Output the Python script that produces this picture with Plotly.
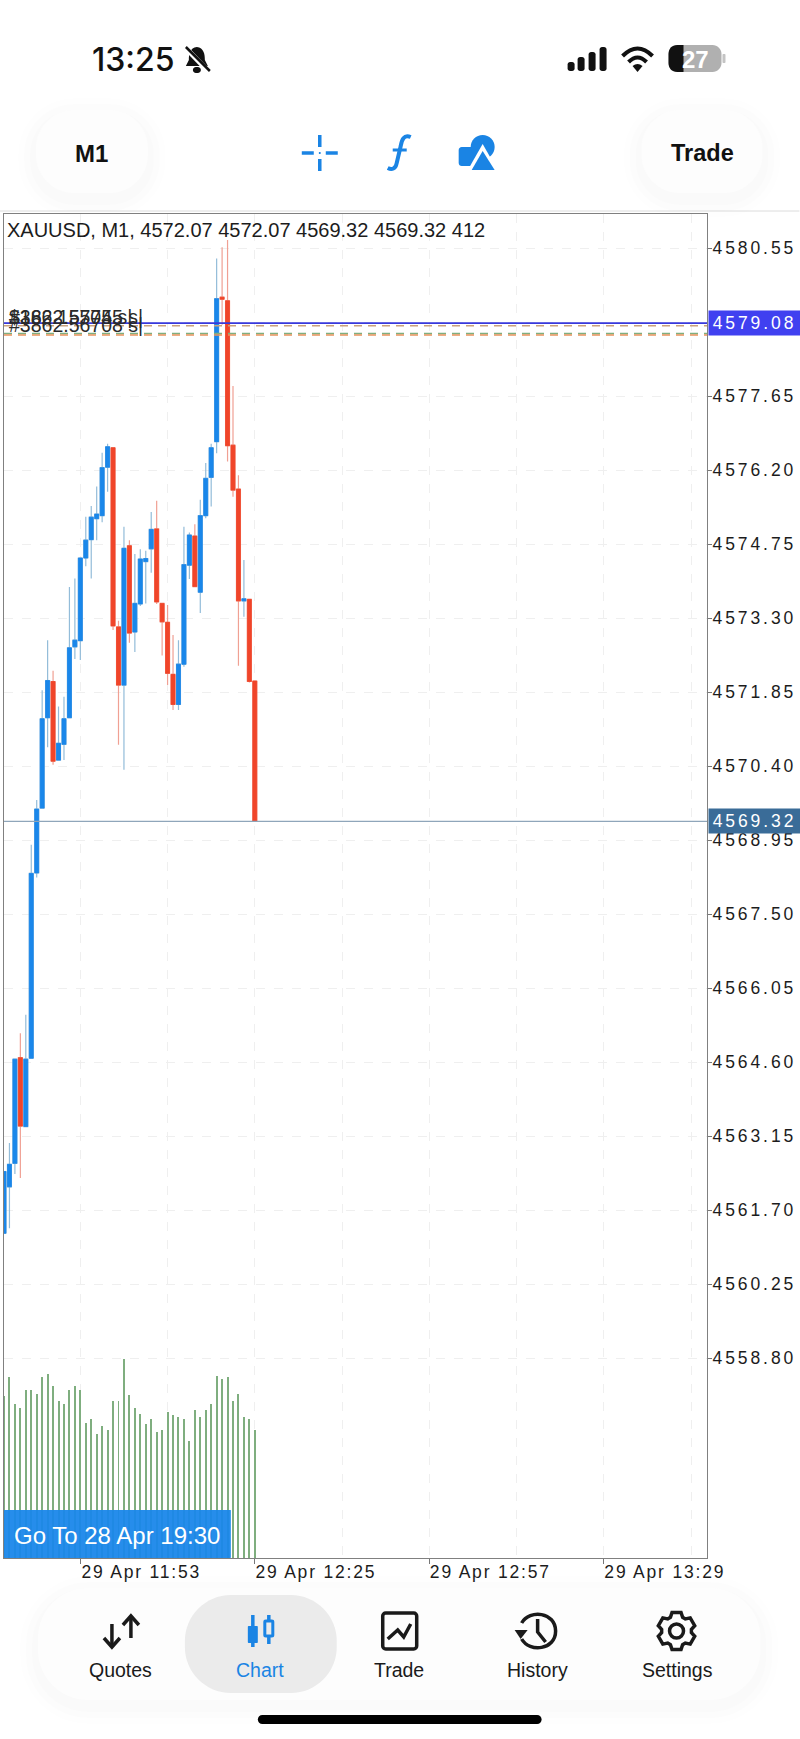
import re

import numpy as np
import pandas as pd
import plotly.graph_objects as go

# candles, one per minute from 11:39 to 12:25
first_minute = "2026-04-29 11:39"
opens = [4561.25, 4562.16, 4562.62, 4564.69, 4563.34, 4564.68, 4568.31, 4569.58, 4571.35, 4572.06,
         4570.52, 4570.83, 4571.35, 4572.74, 4572.86, 4574.48, 4574.84, 4575.25, 4575.31, 4576.26,
         4576.64, 4573.13, 4571.99, 4574.72, 4573.03, 4573.58, 4574.41, 4574.66, 4575.05, 4573.59,
         4573.22, 4572.20, 4571.61, 4572.40, 4574.34, 4574.91, 4573.81, 4575.31, 4576.06, 4576.76,
         4579.59, 4579.52, 4576.69, 4575.83, 4573.64, 4573.67, 4572.07]
highs = [4562.46, 4563.02, 4564.66, 4565.17, 4565.53, 4568.86, 4569.74, 4571.89, 4572.87, 4572.27,
         4571.57, 4571.76, 4573.91, 4574.08, 4574.48, 4575.29, 4575.50, 4575.88, 4576.54, 4576.72,
         4576.64, 4573.25, 4575.09, 4574.83, 4574.56, 4574.65, 4574.62, 4575.38, 4575.60, 4573.59,
         4573.56, 4572.97, 4572.87, 4575.09, 4574.98, 4575.14, 4575.62, 4576.34, 4576.72, 4580.35,
         4580.57, 4580.71, 4577.85, 4576.10, 4574.44, 4573.67, 4572.07]
lows = [4561.25, 4561.35, 4562.41, 4562.33, 4563.34, 4564.68, 4568.22, 4569.58, 4570.77, 4570.43,
        4570.51, 4570.52, 4571.35, 4572.50, 4572.48, 4574.32, 4574.08, 4574.83, 4575.18, 4575.78,
        4573.07, 4570.82, 4570.33, 4572.82, 4572.64, 4573.54, 4573.59, 4574.19, 4573.58, 4572.57,
        4571.99, 4571.50, 4571.50, 4572.35, 4574.07, 4573.92, 4573.40, 4575.26, 4575.49, 4576.53,
        4579.05, 4576.37, 4575.68, 4572.37, 4573.33, 4572.04, 4569.32]
closes = [4562.46, 4562.60, 4564.66, 4563.35, 4564.66, 4568.30, 4569.56, 4571.33, 4572.08, 4570.50,
          4570.85, 4571.33, 4572.72, 4572.87, 4574.48, 4574.83, 4575.28, 4575.34, 4576.25, 4576.66,
          4573.15, 4571.99, 4574.67, 4573.01, 4573.59, 4574.46, 4574.47, 4575.04, 4573.62, 4573.23,
          4572.22, 4571.61, 4572.40, 4574.35, 4574.93, 4573.92, 4575.31, 4576.04, 4576.64, 4579.56,
          4579.55, 4576.68, 4575.81, 4573.64, 4573.68, 4572.06, 4569.32]
volumes = [520, 581, 494, 482, 540, 540, 528, 581, 592, 551, 505, 493, 540, 551, 540, 435, 446, 399, 423,
           411, 505, 505, 640, 522, 482, 463, 429, 446, 406, 412, 470, 458, 453, 446, 376, 476, 453, 476,
           493, 586, 575, 581, 505, 528, 453, 446, 412]

price_ticks = [4580.55, 4577.65, 4576.20, 4574.75, 4573.30, 4571.85, 4570.40,
               4568.95, 4567.50, 4566.05, 4564.60, 4563.15, 4561.70, 4560.25, 4558.80]
price_grid = [4579.10]
time_ticks = ["2026-04-29 11:53", "2026-04-29 12:25", "2026-04-29 12:57", "2026-04-29 13:29"]
time_grid = ["2026-04-29 12:09", "2026-04-29 12:41", "2026-04-29 13:13", "2026-04-29 13:45"]
time_range = ["2026-04-29 11:39:00", "2026-04-29 13:47:56"]
price_range = [4554.887, 4581.22]
volume_top = 4316

bid_price = 4569.32
ask_price = 4579.08
stop_prices = [4579.03, 4578.88, 4578.85]
order_labels = ["#3862.55745 s|", "$162.15705 s|", "#3862.56708 s|"]
order_label_prices = [4579.20, 4579.20, 4579.04]
header = "XAUUSD, M1, 4572.07 4572.07 4569.32 4569.32 412"

BLUE = "#1a87ea"
RED = "#f0452a"
ICON_BLUE = "#1a84e4"
INK = "#1a1a1a"

# plot box in page pixels
LEFT, RIGHT, TOP, BOTTOM = 4, 707.5, 214, 1558
PAGE_W, PAGE_H = 800, 1739


def px(x):
    return (x - LEFT) / (RIGHT - LEFT)


def py(y):
    return 1 - (y - TOP) / (BOTTOM - TOP)


def svg(d):
    """Turn an svg path written in page pixels into paper coordinates."""
    parts = re.findall(r"[MLCQZ]|-?\d+\.?\d*", d)
    out, is_x = [], True
    for part in parts:
        if part.isalpha():
            out.append(part)
        else:
            out.append(f"{px(float(part)) if is_x else py(float(part)):.5f}")
            is_x = not is_x
    return " ".join(out)


def round_rect(x0, y0, x1, y1, r):
    k = r * 0.45
    return (f"M {x0 + r} {y0} L {x1 - r} {y0} C {x1 - k} {y0} {x1} {y0 + k} {x1} {y0 + r} "
            f"L {x1} {y1 - r} C {x1} {y1 - k} {x1 - k} {y1} {x1 - r} {y1} "
            f"L {x0 + r} {y1} C {x0 + k} {y1} {x0} {y1 - k} {x0} {y1 - r} "
            f"L {x0} {y0 + r} C {x0} {y0 + k} {x0 + k} {y0} {x0 + r} {y0} Z")


shapes = []
notes = []
spaced_notes = []


def fill(d, color, layer="above", opacity=1):
    shapes.append(dict(type="path", xref="paper", yref="paper", path=svg(d), fillcolor=color,
                       line=dict(width=0), layer=layer, opacity=opacity))


def stroke(d, color, width=3):
    shapes.append(dict(type="path", xref="paper", yref="paper", path=svg(d), line=dict(color=color, width=width),
                       layer="above"))


def label(x, y, text, size, color=INK, anchor="center", family="Liberation Sans", weight=400):
    notes.append(dict(xref="paper", yref="paper", x=px(x), y=py(y), text=text, showarrow=False, xanchor=anchor,
                      yanchor="middle", font=dict(size=size, color=color, family=family, weight=weight)))


def pill(x0, y0, x1, y1, r, color="#fdfdfd"):
    for grow, alpha in [(18, 0.005), (12, 0.006), (6, 0.008)]:
        fill(round_rect(x0 - grow, y0 - grow + 6, x1 + grow, y1 + grow + 6, r + grow), "#000000", "below", alpha)
    fill(round_rect(x0, y0, x1, y1, r), color, "below")


# status bar
label(134, 59, "13:25", 32, "#111111", family="Inter", weight=500)
fill("M 197 47 C 190 48 189 54 189 60 L 186 66 L 208 66 L 205 60 C 205 54 204 48 197 47 Z", "#111111")
fill(round_rect(193, 67, 201, 73, 3), "#111111")
stroke("M 184 46 L 210 73", "#ffffff", 5)
stroke("M 186 47 L 210 71", "#111111", 2.5)
for x0, y0 in [(568, 62), (578, 57), (589, 52), (600, 47)]:
    fill(round_rect(x0, y0, x0 + 7, 71, 2.5), "#111111")
stroke("M 623 56 Q 638 41 653 56", "#111111", 4)
stroke("M 629 62 Q 638 53 647 62", "#111111", 4)
fill("M 633 66 Q 638 62 643 66 L 638 72 Z", "#111111")
fill(round_rect(669, 45, 722, 72, 9), "#b0b0b0")
fill("M 678 45 L 684 45 L 684 72 L 678 72 C 672 72 669 68 669 63 L 669 54 C 669 49 672 45 678 45 Z", "#111111")
fill(round_rect(723, 54, 726, 63, 1), "#c4c4c4")
label(696, 59, "27", 24, "#ffffff", weight=700)

# top toolbar
shapes.append(dict(type="line", xref="paper", yref="paper", x0=px(0), x1=px(PAGE_W), y0=py(211), y1=py(211),
                   line=dict(color="#dcdcdc", width=1), layer="below"))
pill(36, 110, 148, 193, 38)
pill(642, 110, 763, 193, 38)
label(92, 153, "M1", 24, "#111111", weight=700)
label(703, 153, "Trade", 23.5, "#111111", weight=700)
for seg in ["M 302 153 L 314 153", "M 326 153 L 338 153", "M 320 135 L 320 147", "M 320 159 L 320 171"]:
    stroke(seg, ICON_BLUE, 3.5)
fill(round_rect(319, 152, 321, 154, 1), ICON_BLUE)
stroke("M 411 137 C 404 134 402 140 401 146 L 397 163 C 396 169 392 170 388 168", ICON_BLUE, 4)
stroke("M 393 150 L 407 150", ICON_BLUE, 3)
fill(round_rect(459, 147, 478, 166, 3), ICON_BLUE)
fill(round_rect(471, 135, 495, 159, 12), ICON_BLUE)
fill("M 483 144 L 499 172 L 467 172 Z", "#ffffff")
fill("M 483 151 L 495 170 L 472 170 Z", ICON_BLUE)

# bottom tab bar
pill(38, 1588, 761, 1700, 50)
fill(round_rect(185, 1595, 337, 1693, 46), "#ebebeb", "below")
label(121, 1670, "Quotes", 19.5)
label(260, 1670, "Chart", 19.5, ICON_BLUE)
label(399.5, 1670, "Trade", 19.5)
label(538, 1670, "History", 19.5)
label(677.5, 1670, "Settings", 19.5)
stroke("M 112 1624 L 112 1646", INK, 3.5)
stroke("M 104 1638 L 112 1647 L 120 1638", INK, 3.5)
stroke("M 131 1617 L 131 1638", INK, 3.5)
stroke("M 123 1625 L 131 1616 L 139 1625", INK, 3.5)
stroke("M 253 1615 L 253 1647", ICON_BLUE, 3.5)
fill(round_rect(248, 1626, 258, 1643, 1), ICON_BLUE)
stroke("M 269 1615 L 269 1620", ICON_BLUE, 3.5)
stroke("M 269 1637 L 269 1644", ICON_BLUE, 3.5)
stroke(round_rect(265, 1621, 273, 1636, 1), ICON_BLUE, 3)
stroke(round_rect(383, 1613, 417, 1649, 3), INK, 3.5)
stroke("M 388 1639 L 398 1630 L 404 1637 L 411 1624", INK, 3.5)
stroke("M 522 1623 C 530 1609 556 1612 556 1631 C 556 1650 530 1653 522 1639", INK, 3.5)
fill("M 515 1630 L 528 1630 L 521 1639 Z", INK)
stroke("M 538 1619 L 538 1632 L 546 1642", INK, 3.5)
gear_angles = np.linspace(0, 2 * np.pi, 6, endpoint=False) + np.pi / 2
gear = []
for a in gear_angles:
    for da, r in [(-0.42, 15), (-0.24, 19), (0.24, 19), (0.42, 15)]:
        gear.append((677 + r * np.cos(a + da), 1631 - r * np.sin(a + da)))
stroke("M " + " L ".join(f"{x:.1f} {y:.1f}" for x, y in gear) + " Z", INK, 3.5)
stroke(round_rect(670, 1624, 684, 1638, 7), INK, 3.5)
fill(round_rect(258, 1715, 542, 1724, 4.5), "#000000")

# Go To button sits on top of the volume bars
fill(round_rect(4, 1510, 231, 1558, 0.5), BLUE, opacity=0.95)
label(12, 1535, "Go To 28 Apr 19:30", 24, "#ffffff", anchor="left")

# header and the overlapping order labels
label(5.5, 230, header, 20, "#1c1c1c", anchor="left")
for text, price in zip(order_labels, order_label_prices):
    notes.append(dict(xref="paper", yref="y", x=px(7.5), y=price, text=text, showarrow=False, xanchor="left",
                      yanchor="middle", font=dict(size=19.5, color="#2a2a2a", family="Liberation Sans")))

# price lines
shapes.append(dict(type="line", xref="paper", yref="y", x0=0, x1=1, y0=bid_price, y1=bid_price,
                   line=dict(color="#8fa6ba", width=1.4), layer="above"))
shapes.append(dict(type="line", xref="paper", yref="y", x0=0, x1=1, y0=ask_price, y1=ask_price,
                   line=dict(color="#3838dc", width=1.8), layer="above"))
for price, color in zip(stop_prices, ["#c9a27e", "#7fae7f", "#e8945c"]):
    shapes.append(dict(type="line", xref="paper", yref="y", x0=0, x1=1, y0=price, y1=price,
                       line=dict(color=color, width=1.4, dash="8px,6px"), layer="above"))

# value tags on the price scale
for price, color in [(ask_price, "#4040f0"), (bid_price, "#3a6c98")]:
    spaced_notes.append(len(notes))
    notes.append(dict(xref="paper", yref="y", x=px(709), y=price, text=f"{price:.2f}", showarrow=False,
                      xanchor="left", yanchor="middle", width=89, height=22, bgcolor=color, align="center",
                      font=dict(size=17.5, color="#ffffff", family="Liberation Sans")))

times = pd.date_range(first_minute, periods=len(opens), freq="min")

fig = go.Figure()
# thin pale wicks first, the solid bodies go over them
fig.add_trace(go.Candlestick(
    x=times, open=opens, high=highs, low=lows, close=closes, whiskerwidth=0, showlegend=False, hoverinfo="skip",
    increasing=dict(line=dict(color="#93bcd9", width=1.2), fillcolor=BLUE),
    decreasing=dict(line=dict(color="#f0a093", width=1.2), fillcolor=RED),
))
fig.add_trace(go.Candlestick(
    x=times, open=opens, close=closes, whiskerwidth=0, showlegend=False,
    high=[max(o, c) for o, c in zip(opens, closes)],
    low=[min(o, c) for o, c in zip(opens, closes)],
    increasing=dict(line=dict(color=BLUE, width=0.8), fillcolor=BLUE),
    decreasing=dict(line=dict(color=RED, width=0.8), fillcolor=RED),
))
fig.add_trace(go.Bar(x=times, y=volumes, yaxis="y2", width=11000, marker=dict(color="#7fae7f", line=dict(width=0)),
                     showlegend=False))

grid = dict(gridcolor="#efefef", griddash="dash", gridwidth=1)
fig.update_layout(
    width=PAGE_W,
    height=PAGE_H,
    margin=dict(l=LEFT, r=PAGE_W - RIGHT, t=TOP, b=PAGE_H - BOTTOM, pad=0),
    paper_bgcolor="#ffffff",
    plot_bgcolor="#ffffff",
    showlegend=False,
    boxgap=0.15,
    boxgroupgap=0.15,
    bargap=0,
    shapes=shapes,
    annotations=notes,
    font=dict(family="Liberation Sans", color="#1c1c1c"),
    xaxis=dict(
        type="date", range=time_range, rangeslider=dict(visible=False), tickvals=time_ticks,
        tickformat="%d %b %H:%M", ticks="outside", ticklen=5, tickcolor="#777777", ticklabelshift=61,
        ticklabelstandoff=-7,
        tickfont=dict(size=17.5, family="Liberation Sans", color="#1c1c1c"), showline=True, mirror=True,
        linecolor="#808080", linewidth=1.2, showgrid=True, zeroline=False,
        minor=dict(tickvals=time_grid, showgrid=True, ticks="", **grid), **grid,
    ),
    yaxis=dict(
        range=price_range, side="right", tickvals=price_ticks, tickformat=".2f", ticks="outside", ticklen=4,
        tickcolor="#777777", tickfont=dict(size=17.5, family="Liberation Sans", color="#1c1c1c"), showline=True,
        ticklabelstandoff=-3, mirror=True, linecolor="#808080", linewidth=1.2, showgrid=True, zeroline=False,
        minor=dict(tickvals=price_grid, showgrid=True, ticks="", **grid), **grid,
    ),
    yaxis2=dict(range=[0, volume_top], overlaying="y", side="right", visible=False),
)

tag_rules = ",".join(f'.annotation[data-index="{i}"] text' for i in spaced_notes)
css = f".ytick text,{tag_rules}{{letter-spacing:2.9px}}.xtick text{{letter-spacing:1.8px}}"
post = ("document.body.style.margin='0';var s=document.createElement('style');"
        f"s.textContent='{css}';document.head.appendChild(s);")

fig.write_html("out.html", post_script=post, config={"displayModeBar": False})
